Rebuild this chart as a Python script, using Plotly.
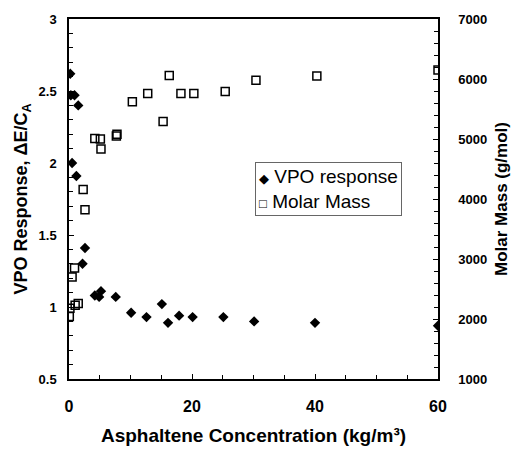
import plotly.graph_objects as go

# VPO response data (asphaltene concentration kg/m3, ΔE/CA)
vpo_x = [0.2, 0.3, 0.9, 1.5, 0.5, 1.2, 2.6, 2.2, 4.2, 4.9, 5.2, 7.6, 10.1, 12.6, 15.1, 16.1, 17.9, 20.1, 25.1, 30.1, 40.0, 60.0]
vpo_y = [2.62, 2.47, 2.47, 2.40, 2.00, 1.91, 1.41, 1.30, 1.08, 1.07, 1.11, 1.07, 0.96, 0.93, 1.02, 0.89, 0.94, 0.93, 0.93, 0.90, 0.89, 0.87]

# Molar mass data (asphaltene concentration kg/m3, g/mol)
mm_x = [0.05, 0.15, 1.0, 1.5, 0.5, 0.9, 2.3, 2.6, 4.2, 5.1, 5.2, 7.7, 7.8, 10.3, 12.8, 15.3, 16.3, 18.2, 20.3, 25.4, 30.4, 40.3, 60.0]
mm_y = [2040, 2180, 2230, 2260, 2700, 2850, 4160, 3820, 5010, 5000, 4835, 5050, 5080, 5620, 5760, 5290, 6060, 5760, 5760, 5790, 5980, 6050, 6150]

series_names = ["VPO response", "Molar Mass"]

FONT = "Liberation Sans, Arial, sans-serif"

fig = go.Figure()
fig.add_trace(go.Scatter(
    x=vpo_x, y=vpo_y, mode="markers", name=series_names[0],
    marker=dict(symbol="diamond", size=8, color="black"),
    yaxis="y"))
fig.add_trace(go.Scatter(
    x=mm_x, y=mm_y, mode="markers", name=series_names[1],
    marker=dict(symbol="square-open", size=8, color="black", line=dict(width=1.5, color="black")),
    yaxis="y2"))

# legend drawn as a boxed text block (symbol glyphs sit right next to the labels)
legend_text = ("<span style='font-size:13px'>◆</span> " + series_names[0] + "<br>"
               "<span style='font-size:13px'>□</span> " + series_names[1])
fig.add_annotation(
    xref="paper", yref="paper", x=0.505, y=0.604, xanchor="left", yanchor="top",
    text=legend_text, showarrow=False, align="left",
    font=dict(family=FONT, size=19, color="black"),
    bordercolor="#666", borderwidth=1, borderpad=3, bgcolor="white")

axis_common = dict(showgrid=False, zeroline=False, showline=True, linecolor="black", linewidth=1.5,
                   ticks="inside", tickcolor="black", ticklen=5, tickwidth=1, automargin=False)

fig.update_layout(
    width=511, height=449,
    margin=dict(l=69, r=73, t=19, b=70),
    paper_bgcolor="white", plot_bgcolor="white",
    font=dict(family=FONT, color="black"),
    showlegend=False,
    xaxis=dict(range=[0, 60], dtick=20, mirror=True,
               minor=dict(dtick=5, ticks="inside", ticklen=4, tickcolor="black"),
               tickfont=dict(family=FONT, size=16, color="black", weight="bold"),
               ticklabelstandoff=12,
               title=dict(text="<b>Asphaltene Concentration (kg/m³)</b>",
                          font=dict(family=FONT, size=19, color="black")),
               **axis_common),
    yaxis=dict(range=[0.5, 3], dtick=0.5, mirror=True,
               minor=dict(dtick=0.1, ticks="inside", ticklen=4, tickcolor="black"),
               tickfont=dict(family=FONT, size=13, color="black", weight="bold"),
               ticklabelstandoff=8,
               title=dict(text="<b>VPO Response, ΔE/C<sub>A</sub></b>",
                          font=dict(family=FONT, size=18, color="black"), standoff=6),
               **axis_common),
    yaxis2=dict(range=[1000, 7000], dtick=1000, overlaying="y", side="right",
                minor=dict(dtick=200, ticks="inside", ticklen=4, tickcolor="black"),
                tickfont=dict(family=FONT, size=13, color="black", weight="bold"),
                ticklabelstandoff=16,
                title=dict(text="<b>Molar Mass (g/mol)</b>",
                           font=dict(family=FONT, size=17, color="black")),
                **axis_common),
)

fig.write_html("out.html")
